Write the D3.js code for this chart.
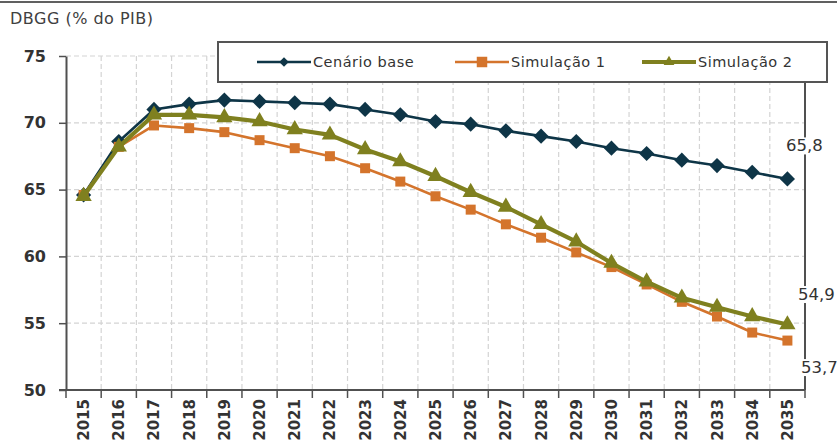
<!DOCTYPE html>
<html>
<head>
<meta charset="utf-8">
<script src="https://cdn.jsdelivr.net/npm/d3@7"></script>
<style>
  html, body { margin: 0; padding: 0; background: #fff; }
  svg { display: block; }
  text { font-family: Tahoma, "DejaVu Sans", sans-serif; }
</style>
</head>
<body>
<svg id="chart" width="837" height="448"></svg>
<script>
// Dívida bruta do governo geral, % do PIB
const years = ["2015","2016","2017","2018","2019","2020","2021","2022","2023","2024","2025",
               "2026","2027","2028","2029","2030","2031","2032","2033","2034","2035"];
const cenarioBase = [64.6,68.6,71.0,71.4,71.7,71.6,71.5,71.4,71.0,70.6,70.1,
                     69.9,69.4,69.0,68.6,68.1,67.7,67.2,66.8,66.3,65.8];
const simulacao1  = [64.6,68.2,69.8,69.6,69.3,68.7,68.1,67.5,66.6,65.6,64.5,
                     63.5,62.4,61.4,60.3,59.2,57.9,56.6,55.5,54.3,53.7];
const simulacao2  = [64.5,68.2,70.6,70.6,70.4,70.1,69.5,69.1,68.0,67.1,66.0,
                     64.8,63.7,62.4,61.1,59.5,58.1,56.9,56.2,55.5,54.9];
const yTicks = [50,55,60,65,70,75];
const seriesNames = ["Cenário base","Simulação 1","Simulação 2"];

const svg = d3.select("#chart");
const plotL = 66, plotR = 805, plotT = 56, plotB = 390;

const x = d3.scaleBand().domain(years).range([plotL, plotR]).padding(0);
const y = d3.scaleLinear().domain([50, 75]).range([plotB, plotT]);
const FONT = 'Tahoma, "DejaVu Sans", sans-serif';

// rule across the top of the figure
svg.append("line").attr("x1", 0).attr("x2", 837).attr("y1", 2).attr("y2", 2)
  .attr("stroke", "#606060").attr("stroke-width", 2);

// title
svg.append("text").attr("x", 10).attr("y", 24)
  .attr("font-size", 16).attr("letter-spacing", 0.5).attr("fill", "#404040").text("DBGG (% do PIB)");

// dashed grid
const grid = svg.append("g");
grid.selectAll("line.h").data(yTicks.filter(d => d > 50)).join("line")
  .attr("x1", plotL).attr("x2", plotR)
  .attr("y1", d => y(d)).attr("y2", d => y(d))
  .attr("stroke", "#d4d4d4").attr("stroke-width", 1.2).attr("stroke-dasharray", "5,3");
grid.selectAll("line.v").data(years.slice(1)).join("line")
  .attr("x1", d => x(d)).attr("x2", d => x(d))
  .attr("y1", plotT).attr("y2", plotB)
  .attr("stroke", "#d4d4d4").attr("stroke-width", 1.2).attr("stroke-dasharray", "5,3");

// right frame edge
svg.append("line").attr("x1", plotR).attr("x2", plotR).attr("y1", plotT).attr("y2", plotB)
  .attr("stroke", "#505050").attr("stroke-width", 2);

// y axis
const yAxis = svg.append("g").attr("transform", `translate(${plotL},0)`)
  .call(d3.axisLeft(y).tickValues(yTicks).tickSize(7).tickSizeOuter(0).tickPadding(13));
yAxis.select(".domain").attr("stroke", "#505050").attr("stroke-width", 2);
yAxis.selectAll(".tick line").attr("stroke", "#505050").attr("stroke-width", 1.5);
yAxis.selectAll(".tick text").attr("font-size", 16).attr("font-weight", "bold")
  .attr("fill", "#333").style("font-family", FONT);

// x axis: ticks at category boundaries, rotated labels at centres
const xAxisG = svg.append("g").attr("transform", `translate(0,${plotB})`);
xAxisG.append("line").attr("x1", plotL - 7).attr("x2", plotR).attr("y1", 0).attr("y2", 0)
  .attr("stroke", "#505050").attr("stroke-width", 2);
xAxisG.selectAll("line.tk").data(years.concat(["end"])).join("line")
  .attr("x1", (d, i) => plotL + i * x.bandwidth()).attr("x2", (d, i) => plotL + i * x.bandwidth())
  .attr("y1", 0).attr("y2", 8).attr("stroke", "#505050").attr("stroke-width", 1.5);
xAxisG.selectAll("text").data(years).join("text")
  .attr("transform", d => `translate(${x(d) + x.bandwidth() / 2 + 5.5},9) rotate(-90)`)
  .attr("text-anchor", "end").attr("font-size", 15).attr("font-weight", "bold")
  .attr("fill", "#333").text(d => d);

// series
const cx = d => x(d) + x.bandwidth() / 2;
const line = d3.line().x((d, i) => cx(years[i])).y(d => y(d));

function drawSeries(values, color, width, symbol, size, rot) {
  const g = svg.append("g");
  g.append("path").datum(values).attr("d", line)
    .attr("fill", "none").attr("stroke", color).attr("stroke-width", width)
    .attr("stroke-linejoin", "round");
  g.selectAll("path.m").data(values).join("path")
    .attr("transform", (d, i) => `translate(${cx(years[i])},${y(d)}) rotate(${rot})`)
    .attr("d", d3.symbol().type(symbol).size(size)).attr("fill", color);
  return g;
}

const colBase = "#0e3547", colS1 = "#d4742c", colS2 = "#7f801f";
drawSeries(cenarioBase, colBase, 2.6, d3.symbolSquare, 115, 45);
drawSeries(simulacao1, colS1, 2.6, d3.symbolSquare, 100, 0);
drawSeries(simulacao2, colS2, 4.2, d3.symbolTriangle, 115, 0);

// end-point value labels
const last = years.length - 1;
const endLabels = [
  { v: cenarioBase[last], dy: -33, dx: 17 },
  { v: simulacao2[last], dy: -30, dx: 29 },
  { v: simulacao1[last], dy: 27, dx: 32 }
];
endLabels.forEach(l => {
  const t = svg.append("text").attr("x", cx(years[last]) + l.dx).attr("y", y(l.v) + l.dy)
    .attr("text-anchor", "middle").attr("dominant-baseline", "central")
    .attr("font-size", 16.5).attr("fill", "#333").text(d3.format(".1f")(l.v).replace(".", ","));
  const bb = t.node().getBBox();
  svg.insert("rect", () => t.node()).attr("x", bb.x - 2).attr("y", bb.y + 1)
    .attr("width", bb.width + 4).attr("height", bb.height - 2).attr("fill", "#fff");
});

// legend
const lg = svg.append("g");
lg.append("rect").attr("x", 218).attr("y", 42).attr("width", 609).attr("height", 40)
  .attr("fill", "#fff").attr("stroke", "#555").attr("stroke-width", 2);
const legendItems = [
  { name: seriesNames[0], color: colBase, w: 2.6, sym: d3.symbolSquare, size: 45, rot: 45, x0: 257 },
  { name: seriesNames[1], color: colS1, w: 2.6, sym: d3.symbolSquare, size: 110, rot: 0, x0: 455 },
  { name: seriesNames[2], color: colS2, w: 4.2, sym: d3.symbolTriangle, size: 50, rot: 0, x0: 642 }
];
legendItems.forEach(it => {
  lg.append("line").attr("x1", it.x0).attr("x2", it.x0 + 54).attr("y1", 62).attr("y2", 62)
    .attr("stroke", it.color).attr("stroke-width", it.w);
  lg.append("path").attr("transform", `translate(${it.x0 + 27},62) rotate(${it.rot})`)
    .attr("d", d3.symbol().type(it.sym).size(it.size)).attr("fill", it.color);
  lg.append("text").attr("x", it.x0 + 56).attr("y", 62).attr("dominant-baseline", "central")
    .attr("font-size", 14.5).attr("letter-spacing", 0.5).attr("fill", "#333").text(it.name);
});
</script>
</body>
</html>
